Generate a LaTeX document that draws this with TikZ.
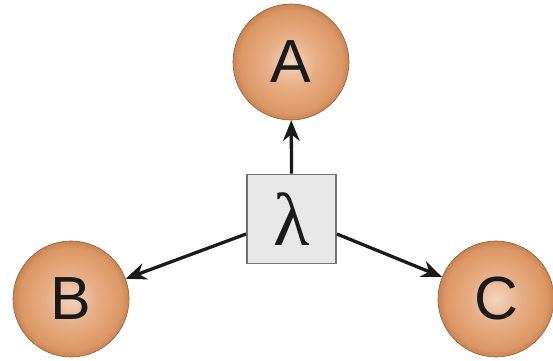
\documentclass[tikz,border=0pt]{standalone}
\usepackage{fontspec}
\setmainfont{Liberation Sans}
\newfontfamily\greekfont{Liberation Serif}
\usetikzlibrary{arrows.meta}
\definecolor{ballin}{HTML}{F3D5BD}
\definecolor{ballmid}{HTML}{E7AE85}
\definecolor{ballout}{HTML}{DC9867}
\definecolor{balledge}{HTML}{C98452}
\definecolor{ballline}{HTML}{8E5E3C}
\definecolor{boxgray}{HTML}{E8E8E8}
\definecolor{boxline}{HTML}{747474}
\definecolor{dark}{HTML}{1A1A1A}

\pgfdeclareradialshading{ballshade}{\pgfpoint{0bp}{0bp}}{%
  color(0bp)=(ballin); color(11bp)=(ballmid); color(22bp)=(ballout);
  color(25bp)=(balledge); color(50bp)=(balledge)}

\tikzset{
  ball/.style={circle, minimum size=3.48cm, inner sep=0pt, shading=ballshade,
    draw=ballline, line width=0.5pt, text=dark, font=\fontsize{52}{52}\selectfont},
  lambdabox/.style={rectangle, minimum size=2.67cm, inner sep=0pt, fill=boxgray,
    draw=boxline, line width=1.6pt, text=dark, font=\greekfont\fontsize{64}{64}\selectfont},
  link/.style={-{Stealth[length=0.62cm, width=0.5cm]}, line width=2.8pt, draw=dark}
}

\begin{document}
\begin{tikzpicture}[x=0.03cm, y=-0.03cm]
    \useasboundingbox[fill=white] (0,0) rectangle (553,361);

    % the three states
    \node[ball] (A) at (291,62) {A};
    \node[ball] (B) at (71,299) {B};
    \node[ball] (C) at (496,299) {C};

    % rate box in the middle
    \node[lambdabox] (lam) at (291.5,219) {λ};

    \draw[link] (lam.north) -- (A);
    \draw[link] ([yshift=-0.45cm]lam.west) -- (B);
    \draw[link] ([yshift=-0.45cm]lam.east) -- (C);
\end{tikzpicture}
\end{document}
